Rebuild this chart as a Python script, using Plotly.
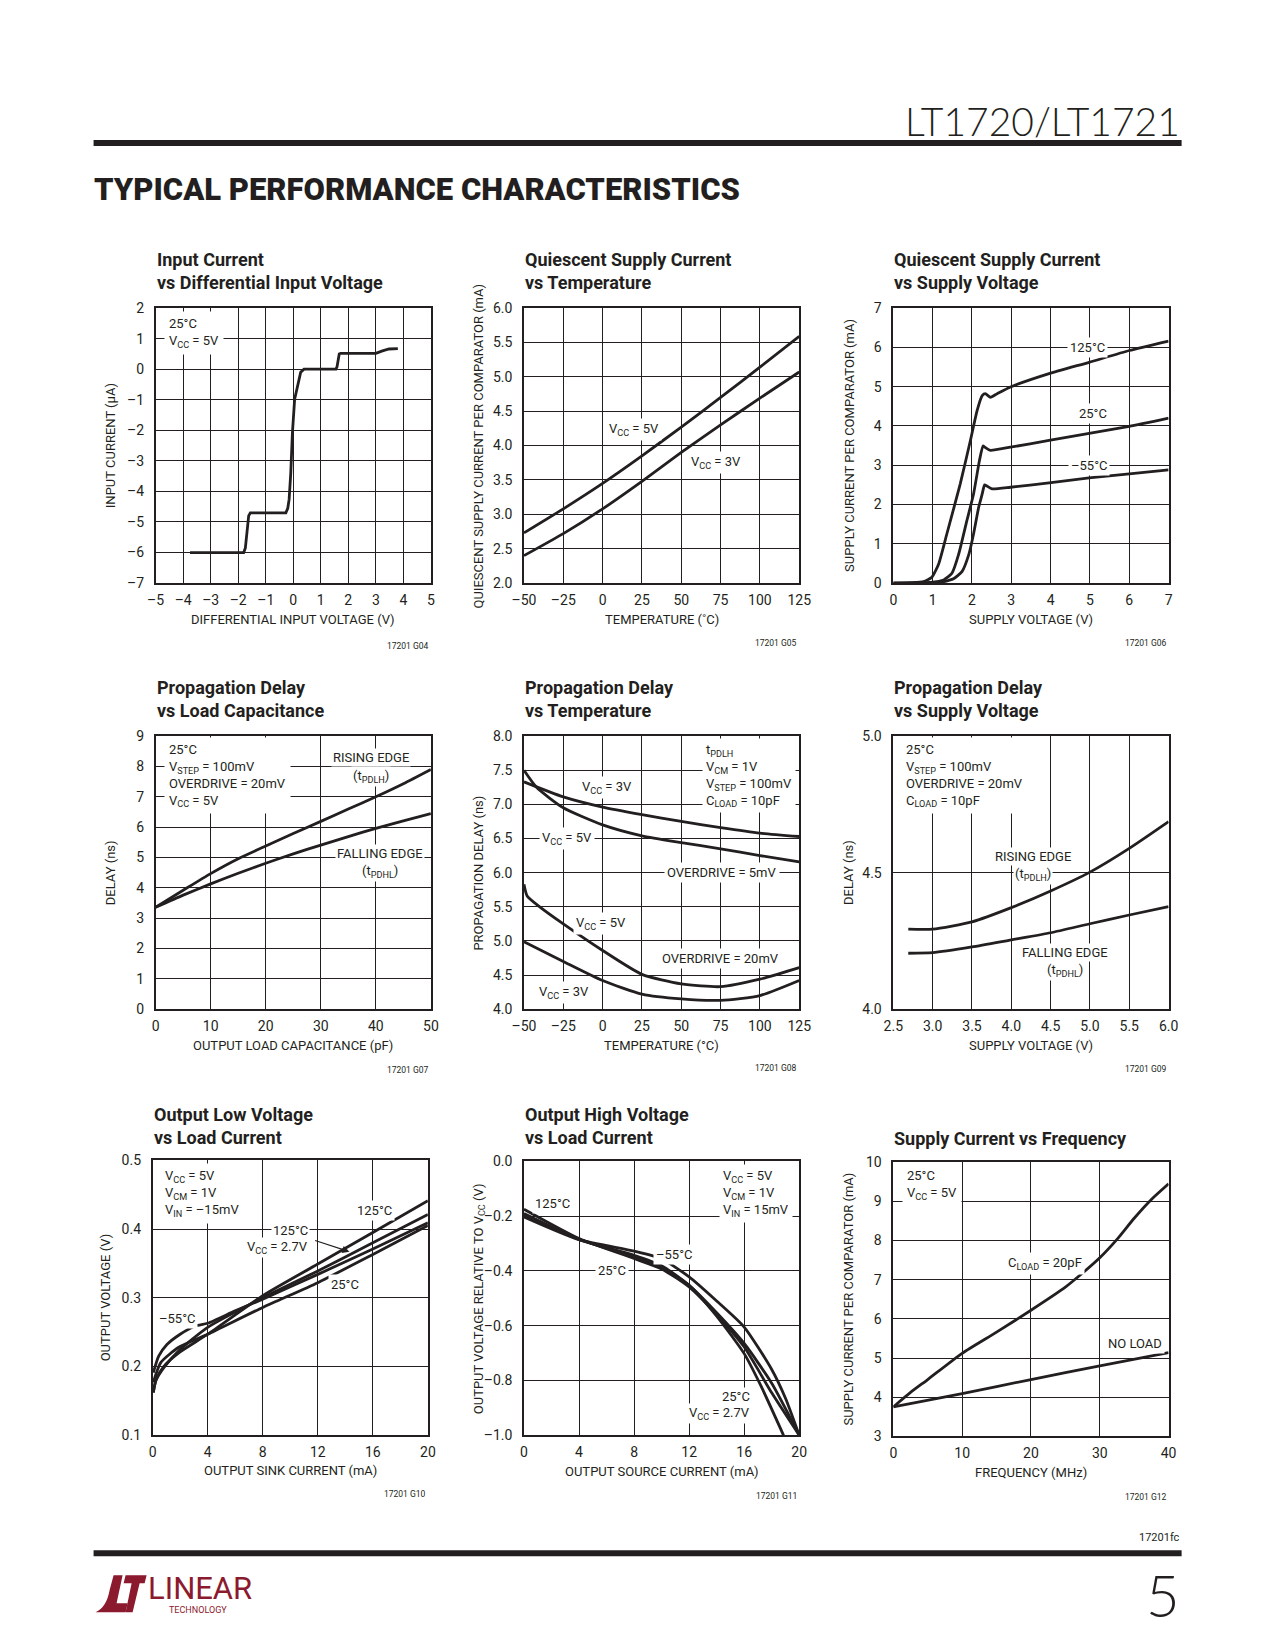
import plotly.graph_objects as go

# ---------------- DATA ----------------
# 1 Input current vs differential input voltage
IC_V = [-3.75, -1.80, -1.74, -1.68, -1.62, -1.56, -0.27, -0.20, -0.15, -0.09, -0.03, 0.05, 0.15, 0.27, 0.39, 1.55, 1.59, 1.63, 1.67, 1.72, 3.00, 3.24, 3.48, 3.80]
IC_I = [-6.0, -6.0, -5.85, -5.2, -4.80, -4.70, -4.70, -4.55, -4.26, -3.39, -2.07, -0.98, -0.54, -0.10, 0.0, 0.0, 0.08, 0.35, 0.50, 0.52, 0.52, 0.60, 0.66, 0.67]

# 2 Quiescent supply current vs temperature
QT_T = [-50, -25, 0, 25, 50, 75, 100, 125]
QT_5V = [2.73, 3.08, 3.45, 3.85, 4.27, 4.70, 5.14, 5.59]
QT_3V = [2.40, 2.72, 3.08, 3.48, 3.90, 4.30, 4.69, 5.07]

# 3 Quiescent supply current vs supply voltage
QV_V125 = [0, 0.5, 0.77, 0.98, 1.15, 1.36, 1.70, 1.96, 2.13, 2.26, 2.34, 2.47, 2.64, 2.98, 3.96, 4.98, 6.0, 7.0]
QV_125 = [0, 0.01, 0.04, 0.15, 0.48, 1.25, 2.52, 3.63, 4.39, 4.77, 4.82, 4.73, 4.82, 4.99, 5.33, 5.62, 5.92, 6.16]
QV_V25 = [0, 0.94, 1.28, 1.49, 1.66, 1.87, 2.04, 2.19, 2.28, 2.34, 2.47, 2.98, 3.96, 4.98, 6.0, 7.0]
QV_25 = [0, 0.02, 0.08, 0.25, 0.73, 1.59, 2.27, 3.12, 3.49, 3.45, 3.38, 3.46, 3.63, 3.81, 3.99, 4.20]
QV_Vm55 = [0, 1.19, 1.53, 1.75, 1.92, 2.04, 2.17, 2.26, 2.32, 2.38, 2.51, 2.98, 3.96, 4.98, 6.0, 7.0]
QV_m55 = [0, 0.02, 0.11, 0.30, 0.73, 1.25, 1.93, 2.27, 2.50, 2.47, 2.40, 2.44, 2.55, 2.68, 2.78, 2.88]

# 4 Propagation delay vs load capacitance
PC_C = [0, 5, 10, 15, 20, 25, 30, 35, 40, 45, 50]
PC_RISE = [3.36, 3.92, 4.47, 4.96, 5.38, 5.79, 6.19, 6.60, 7.00, 7.43, 7.90]
PC_FALL = [3.36, 3.76, 4.13, 4.48, 4.81, 5.12, 5.41, 5.69, 5.96, 6.21, 6.45]

# 5 Propagation delay vs temperature
PT_T = [-50, -25, 0, 25, 50, 75, 100, 125]
PT_3V_5MV = [7.33, 7.11, 6.96, 6.85, 6.75, 6.66, 6.58, 6.53]
PT_T5 = [-50, -42, -25, 0, 25, 50, 75, 100, 125]
PT_5V_5MV = [7.50, 7.25, 6.95, 6.70, 6.54, 6.44, 6.35, 6.25, 6.16]
PT_T20 = [-50, -48, -40, -25, 0, 25, 50, 75, 100, 125]
PT_5V_20MV = [5.83, 5.66, 5.50, 5.25, 4.86, 4.51, 4.37, 4.33, 4.44, 4.61]
PT_3V_20MV = [4.99, 4.70, 4.42, 4.22, 4.15, 4.13, 4.20, 4.42]

# 6 Propagation delay vs supply voltage
PV_V = [2.69, 3.0, 3.5, 4.0, 4.5, 5.0, 5.5, 6.0]
PV_RISE = [4.293, 4.293, 4.320, 4.372, 4.433, 4.502, 4.589, 4.687]
PV_FALL = [4.205, 4.207, 4.228, 4.254, 4.280, 4.313, 4.345, 4.376]

# 7 Output low voltage vs load current
OL_I125 = [0.05, 0.25, 0.8, 1.9, 4, 8, 12, 16, 20]
OL_125 = [0.162, 0.181, 0.200, 0.220, 0.247, 0.303, 0.349, 0.395, 0.441]
OL_125_27 = [0.163, 0.180, 0.198, 0.223, 0.257, 0.300, 0.339, 0.380, 0.421]
OL_Im55 = [0.05, 0.44, 1.04, 2.0, 3.1, 4, 6, 8, 12, 16, 20]
OL_m55 = [0.191, 0.215, 0.232, 0.247, 0.259, 0.263, 0.281, 0.298, 0.334, 0.371, 0.409]
OL_I25 = [0.05, 0.6, 1.9, 4, 8, 12, 16, 20]
OL_25 = [0.177, 0.206, 0.228, 0.247, 0.286, 0.322, 0.363, 0.405]

# 8 Output high voltage vs load current
OH_Im55 = [0, 4, 8, 10, 12, 14, 16, 18, 19, 20]
OH_m55 = [-0.203, -0.286, -0.328, -0.356, -0.422, -0.510, -0.605, -0.760, -0.865, -1.0]
OH_I = [0, 4, 8, 10, 12, 14, 16, 18, 20]
OH_25 = [-0.191, -0.285, -0.343, -0.381, -0.453, -0.553, -0.665, -0.810, -1.0]
OH_125 = [-0.175, -0.282, -0.355, -0.393, -0.459, -0.560, -0.678, -0.845, -1.0]
OH_I27 = [0, 4, 8, 10, 12, 14, 16, 17.2, 18.86]
OH_27 = [-0.197, -0.285, -0.349, -0.386, -0.453, -0.565, -0.702, -0.818, -1.0]

# 9 Supply current vs frequency
SF_F20 = [0, 2.5, 5, 10, 15, 20, 25, 27.5, 30, 32.5, 35, 37.5, 40]
SF_20PF = [3.75, 4.12, 4.45, 5.12, 5.66, 6.22, 6.81, 7.17, 7.56, 8.03, 8.57, 9.05, 9.45]
SF_FNL = [0, 10, 20, 30, 40]
SF_NL = [3.75, 4.09, 4.45, 4.80, 5.14]

# tick labels
T1_X = [-5, -4, -3, -2, -1, 0, 1, 2, 3, 4, 5]
T1_XL = ["–5", "–4", "–3", "–2", "–1", "0", "1", "2", "3", "4", "5"]
T1_Y = [-7, -6, -5, -4, -3, -2, -1, 0, 1, 2]
T1_YL = ["–7", "–6", "–5", "–4", "–3", "–2", "–1", "0", "1", "2"]
TT_X = [-50, -25, 0, 25, 50, 75, 100, 125]
TT_XL = ["–50", "–25", "0", "25", "50", "75", "100", "125"]
T2_Y = [2.0, 2.5, 3.0, 3.5, 4.0, 4.5, 5.0, 5.5, 6.0]
T2_YL = ["2.0", "2.5", "3.0", "3.5", "4.0", "4.5", "5.0", "5.5", "6.0"]
T3_X = [0, 1, 2, 3, 4, 5, 6, 7]
T3_Y = [0, 1, 2, 3, 4, 5, 6, 7]
T4_X = [0, 10, 20, 30, 40, 50]
T4_Y = [0, 1, 2, 3, 4, 5, 6, 7, 8, 9]
T5_Y = [4.0, 4.5, 5.0, 5.5, 6.0, 6.5, 7.0, 7.5, 8.0]
T5_YL = ["4.0", "4.5", "5.0", "5.5", "6.0", "6.5", "7.0", "7.5", "8.0"]
T6_X = [2.5, 3.0, 3.5, 4.0, 4.5, 5.0, 5.5, 6.0]
T6_XL = ["2.5", "3.0", "3.5", "4.0", "4.5", "5.0", "5.5", "6.0"]
T6_Y = [4.0, 4.5, 5.0]
T6_YL = ["4.0", "4.5", "5.0"]
T7_X = [0, 4, 8, 12, 16, 20]
T7_Y = [0.1, 0.2, 0.3, 0.4, 0.5]
T7_YL = ["0.1", "0.2", "0.3", "0.4", "0.5"]
T8_Y = [-1.0, -0.8, -0.6, -0.4, -0.2, 0.0]
T8_YL = ["–1.0", "–0.8", "–0.6", "–0.4", "–0.2", "0.0"]
T9_X = [0, 10, 20, 30, 40]
T9_Y = [3, 4, 5, 6, 7, 8, 9, 10]

# ---------------- STYLE / LAYOUT ----------------
OFF = 8
W, H = 1275 - 2 * OFF, 1650 - 2 * OFF
# page-to-figure calibration (page pixel -> figure pixel)
SX, CX = 0.98, 19.5
SY, CY = 0.99, 16.0
INK = "#231f20"
RED = "#8c1a2e"
FONT = "Roboto, 'Liberation Sans', sans-serif"
THIN = "Lato, 'Liberation Sans', sans-serif"


def px(x):
    return ((x - CX) / SX) / W


def py(y):
    return 1 - ((y - CY) / SY) / H


BOX = {
    1: (155, 430, 308, 583), 2: (523, 798, 308, 583), 3: (892, 1167, 308, 583),
    4: (155, 430, 736, 1009), 5: (523, 798, 736, 1009), 6: (892, 1167, 736, 1009),
    7: (152, 427, 1160, 1435), 8: (523, 798, 1161, 1435), 9: (892, 1167, 1162, 1436),
}

fig = go.Figure()
layout = dict(
    width=W, height=H, autosize=False,
    margin=dict(l=0, r=0, t=0, b=0),
    paper_bgcolor="white", plot_bgcolor="white",
    showlegend=False, annotations=[], shapes=[],
)


def sfx(n):
    return "" if n == 1 else str(n)


def axes(n, xr, xt, xtl, yr, yt, ytl):
    l, r, t, b = BOX[n]
    s = sfx(n)
    common = dict(showgrid=True, gridcolor=INK, gridwidth=1.3, showline=True,
                  linecolor=INK, linewidth=1.6, mirror=True, ticks="", zeroline=False,
                  tickfont=dict(family=FONT, size=14, color=INK), fixedrange=True)
    layout["xaxis" + s] = dict(domain=[px(l), px(r)], range=xr, anchor="y" + s,
                               tickmode="array", tickvals=xt, ticktext=xtl,
                               ticklabelstandoff=3, **common)
    layout["yaxis" + s] = dict(domain=[py(b), py(t)], range=yr, anchor="x" + s,
                               tickmode="array", tickvals=yt, ticktext=ytl,
                               ticklabelstandoff=7, **common)


def line(n, x, y, smooth=0.6, shape="spline"):
    s = sfx(n)
    ln = dict(color=INK, width=2.8, shape=shape)
    if shape == "spline":
        ln["smoothing"] = smooth
    fig.add_trace(go.Scatter(x=x, y=y, xaxis="x" + s, yaxis="y" + s, mode="lines",
                             line=ln, hoverinfo="skip", showlegend=False))


def lab(n, x, y, text, xanchor="center", align="center", size=13, pad=2):
    s = sfx(n)
    layout["annotations"].append(dict(
        x=x, y=y, xref="x" + s, yref="y" + s, text=text, showarrow=False,
        xanchor=xanchor, yanchor="middle", align=align, bgcolor="white", borderpad=pad,
        font=dict(family=FONT, size=size, color=INK)))


def ptext(x, y, text, size, xanchor="left", family=FONT, color=INK, angle=0, weight=None):
    f = dict(family=family, size=size, color=color)
    if weight is not None:
        f["weight"] = weight
    layout["annotations"].append(dict(
        x=px(x), y=py(y), xref="paper", yref="paper", text=text, showarrow=False,
        xanchor=xanchor, yanchor="middle", textangle=angle, font=f, align="left"))


def frame(n, title, title_y, xtitle, xtitle_y, ytitle, ytitle_x, code, code_y):
    l, r, t, b = BOX[n]
    ptext(l - 1, title_y, title, 18, weight=700)
    ptext((l + r) / 2, xtitle_y, xtitle, 13, xanchor="center")
    ptext(ytitle_x, (t + b) / 2, ytitle, 13, xanchor="center", angle=-90)
    ptext(r, code_y, code, 8.5, xanchor="right")


# chart 1
axes(1, [-5, 5], T1_X, T1_XL, [-7, 2], T1_Y, T1_YL)
line(1, IC_V, IC_I, shape="linear")
lab(1, -4.68, 1.2, "25°C<br>V<sub>CC</sub> = 5V", xanchor="left", align="left", pad=4)
frame(1, "Input Current<br>vs Differential Input Voltage", 271, "DIFFERENTIAL INPUT VOLTAGE (V)", 619,
      "INPUT CURRENT (µA)", 110, "17201 G04", 646)

# chart 2
axes(2, [-50, 125], TT_X, TT_XL, [2.0, 6.0], T2_Y, T2_YL)
line(2, QT_T, QT_5V)
line(2, QT_T, QT_3V)
lab(2, 20, 4.24, "V<sub>CC</sub> = 5V")
lab(2, 72, 3.76, "V<sub>CC</sub> = 3V")
frame(2, "Quiescent Supply Current<br>vs Temperature", 271, "TEMPERATURE (˚C)", 619,
      "QUIESCENT SUPPLY CURRENT PER COMPARATOR (mA)", 478, "17201 G05", 643)

# chart 3
axes(3, [0, 7], T3_X, [str(v) for v in T3_X], [0, 7], T3_Y, [str(v) for v in T3_Y])
line(3, QV_V125, QV_125, smooth=0.5)
line(3, QV_V25, QV_25, smooth=0.5)
line(3, QV_Vm55, QV_m55, smooth=0.5)
lab(3, 4.94, 6.0, "125°C")
lab(3, 5.07, 4.31, "25°C")
lab(3, 4.98, 3.0, "–55°C")
frame(3, "Quiescent Supply Current<br>vs Supply Voltage", 271, "SUPPLY VOLTAGE (V)", 619,
      "SUPPLY CURRENT PER COMPARATOR (mA)", 848, "17201 G06", 643)

# chart 4
axes(4, [0, 50], T4_X, [str(v) for v in T4_X], [0, 9], T4_Y, [str(v) for v in T4_Y])
line(4, PC_C, PC_RISE)
line(4, PC_C, PC_FALL)
lab(4, 1.5, 7.7, "25°C<br>V<sub>STEP</sub> = 100mV<br>OVERDRIVE = 20mV<br>V<sub>CC</sub> = 5V",
    xanchor="left", align="left", pad=4)
lab(4, 39.2, 8.29, "RISING EDGE", pad=1)
lab(4, 39.2, 7.66, "(t<sub>PDLH</sub>)", pad=1)
lab(4, 40.7, 5.14, "FALLING EDGE", pad=1)
lab(4, 40.7, 4.53, "(t<sub>PDHL</sub>)", pad=1)
frame(4, "Propagation Delay<br>vs Load Capacitance", 699, "OUTPUT LOAD CAPACITANCE (pF)", 1045,
      "DELAY (ns)", 110, "17201 G07", 1070)

# chart 5
axes(5, [-50, 125], TT_X, TT_XL, [4.0, 8.0], T5_Y, T5_YL)
line(5, PT_T, PT_3V_5MV)
line(5, PT_T5, PT_5V_5MV)
line(5, PT_T20, PT_5V_20MV)
line(5, PT_T, PT_3V_20MV)
lab(5, 63.0, 7.43, "t<sub>PDLH</sub><br>V<sub>CM</sub> = 1V<br>V<sub>STEP</sub> = 100mV<br>C<sub>LOAD</sub> = 10pF",
    xanchor="left", align="left", pad=3)
lab(5, 3.0, 7.25, "V<sub>CC</sub> = 3V")
lab(5, -22.8, 6.5, "V<sub>CC</sub> = 5V")
lab(5, 76.2, 6.0, "OVERDRIVE = 5mV")
lab(5, -1.2, 5.25, "V<sub>CC</sub> = 5V")
lab(5, 74.7, 4.74, "OVERDRIVE = 20mV")
lab(5, -24.5, 4.25, "V<sub>CC</sub> = 3V")
frame(5, "Propagation Delay<br>vs Temperature", 699, "TEMPERATURE (°C)", 1045,
      "PROPAGATION DELAY (ns)", 478, "17201 G08", 1068)

# chart 6
axes(6, [2.5, 6.0], T6_X, T6_XL, [4.0, 5.0], T6_Y, T6_YL)
line(6, PV_V, PV_RISE)
line(6, PV_V, PV_FALL)
lab(6, 2.6, 4.855, "25°C<br>V<sub>STEP</sub> = 100mV<br>OVERDRIVE = 20mV<br>C<sub>LOAD</sub> = 10pF",
    xanchor="left", align="left", pad=4)
lab(6, 4.27, 4.561, "RISING EDGE", pad=1)
lab(6, 4.27, 4.494, "(t<sub>PDLH</sub>)", pad=1)
lab(6, 4.68, 4.207, "FALLING EDGE", pad=1)
lab(6, 4.68, 4.140, "(t<sub>PDHL</sub>)", pad=1)
frame(6, "Propagation Delay<br>vs Supply Voltage", 699, "SUPPLY VOLTAGE (V)", 1045,
      "DELAY (ns)", 847, "17201 G09", 1069)

# chart 7
axes(7, [0, 20], T7_X, [str(v) for v in T7_X], [0.1, 0.5], T7_Y, T7_YL)
line(7, OL_I125, OL_125)
line(7, OL_I125, OL_125_27)
line(7, OL_Im55, OL_m55)
line(7, OL_I25, OL_25)
lab(7, 0.55, 0.452, "V<sub>CC</sub> = 5V<br>V<sub>CM</sub> = 1V<br>V<sub>IN</sub> = –15mV",
    xanchor="left", align="left", pad=4)
lab(7, 16.15, 0.427, "125°C")
lab(7, 11.4, 0.398, "125°C", xanchor="right", pad=1)
lab(7, 11.4, 0.373, "V<sub>CC</sub> = 2.7V", xanchor="right", pad=1)
lab(7, 14.0, 0.32, "25°C")
lab(7, 1.77, 0.27, "–55°C")
layout["annotations"].append(dict(
    x=14.3, y=0.367, xref="x7", yref="y7", ax=11.7, ay=0.384, axref="x7", ayref="y7",
    text="", showarrow=True, arrowhead=2, arrowsize=1.2, arrowwidth=1.2, arrowcolor=INK))
frame(7, "Output Low Voltage<br>vs Load Current", 1126, "OUTPUT SINK CURRENT (mA)", 1470,
      "OUTPUT VOLTAGE (V)", 105, "17201 G10", 1494)

# chart 8
axes(8, [0, 20], T7_X, [str(v) for v in T7_X], [-1.0, 0.0], T8_Y, T8_YL)
line(8, OH_Im55, OH_m55)
line(8, OH_I, OH_25)
line(8, OH_I, OH_125)
line(8, OH_I27, OH_27)
lab(8, 14.2, -0.118, "V<sub>CC</sub> = 5V<br>V<sub>CM</sub> = 1V<br>V<sub>IN</sub> = 15mV",
    xanchor="left", align="left", pad=3)
lab(8, 2.06, -0.155, "125°C")
lab(8, 10.9, -0.341, "–55°C")
lab(8, 6.42, -0.398, "25°C")
lab(8, 16.6, -0.860, "25°C", xanchor="right", pad=1)
lab(8, 16.6, -0.921, "V<sub>CC</sub> = 2.7V", xanchor="right", pad=1)
frame(8, "Output High Voltage<br>vs Load Current", 1126, "OUTPUT SOURCE CURRENT (mA)", 1471,
      "OUTPUT VOLTAGE RELATIVE TO V<sub>CC</sub> (V)", 478, "17201 G11", 1496)

# chart 9
axes(9, [0, 40], T9_X, [str(v) for v in T9_X], [3, 10], T9_Y, [str(v) for v in T9_Y])
line(9, SF_F20, SF_20PF)
line(9, SF_FNL, SF_NL)
lab(9, 1.2, 9.41, "25°C<br>V<sub>CC</sub> = 5V", xanchor="left", align="left", pad=4)
lab(9, 22.0, 7.41, "C<sub>LOAD</sub> = 20pF")
lab(9, 35.1, 5.37, "NO LOAD")
frame(9, "Supply Current vs Frequency", 1138, "FREQUENCY (MHz)", 1472,
      "SUPPLY CURRENT PER COMPARATOR (mA)", 847, "17201 G12", 1497)

# ---------------- PAGE DECORATION ----------------
ptext(1180, 121, "LT1720/LT1721", 39, xanchor="right", family=THIN, weight=300)
ptext(91, 189, "TYPICAL PERFORMANCE CHARACTERISTICS", 31, weight=900)
ptext(1180, 1537, "17201fc", 11, xanchor="right")
ptext(1180, 1594, "5", 58, xanchor="right", family=THIN, weight=300)
ptext(145, 1588, "LINEAR", 31, color=RED)
ptext(166, 1610, "TECHNOLOGY", 9, color=RED)

layout["shapes"] += [
    dict(type="rect", xref="paper", yref="paper", x0=px(93), x1=px(1180), y0=py(146), y1=py(140),
         fillcolor=INK, line=dict(width=0)),
    dict(type="rect", xref="paper", yref="paper", x0=px(93), x1=px(1180), y0=py(1556), y1=py(1550),
         fillcolor=INK, line=dict(width=0)),
]


def pth(pts):
    d = ""
    for i, p in enumerate(pts):
        if p[0] == "Q":
            d += " Q %f,%f %f,%f" % (px(p[1]), py(p[2]), px(p[3]), py(p[4]))
        else:
            d += (" M " if i == 0 else " L ") + "%f,%f" % (px(p[0]), py(p[1]))
    return d + " Z"


layout["shapes"] += [
    dict(type="path", xref="paper", yref="paper",
         path=pth([(95, 1612), ("Q", 106, 1607, 109, 1590), (113, 1575), (122, 1575), (116, 1603),
                   (127, 1603), (125, 1612)]), fillcolor=RED, line=dict(width=0)),
    dict(type="path", xref="paper", yref="paper",
         path=pth([(125, 1575), (146, 1575), (144, 1583), (139, 1583), (132, 1612), (125, 1612),
                   (131, 1583), (123, 1583)]), fillcolor=RED, line=dict(width=0)),
]

fig.update_layout(**layout)
fig.write_html("out.html", config={"displayModeBar": False})
